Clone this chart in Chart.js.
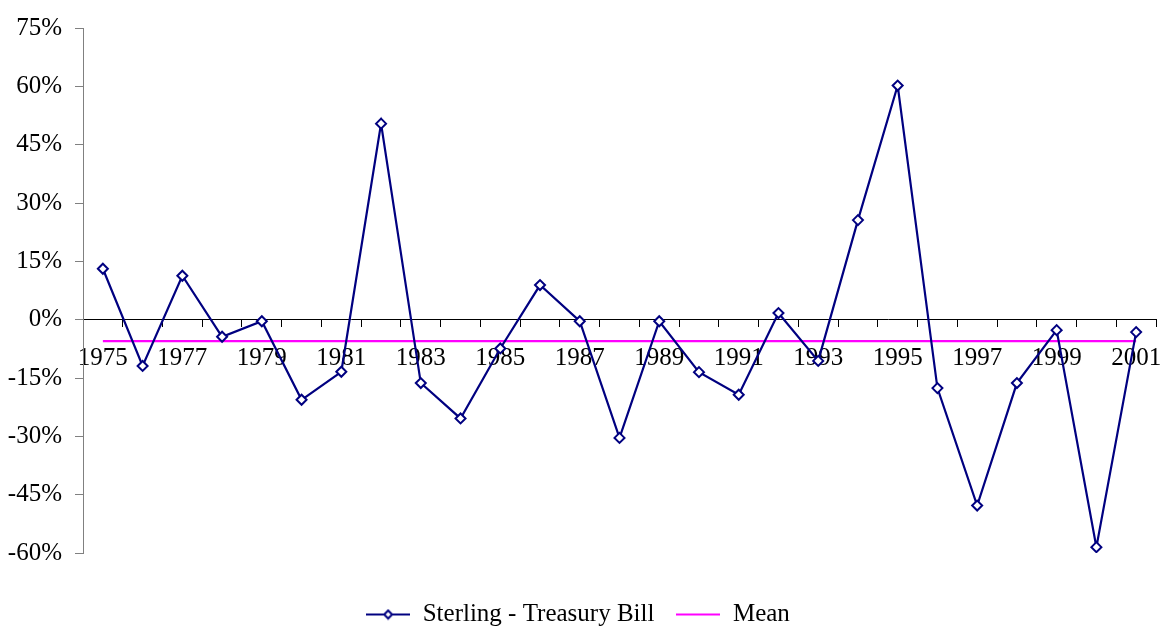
<!DOCTYPE html>
<html>
<head>
<meta charset="utf-8">
<script src="https://cdn.jsdelivr.net/npm/chart.js@4"></script>
<style>
    html, body { margin: 0; padding: 0; background: #fff; }
    #wrap { width: 1164px; height: 633px; }
</style>
</head>
<body>
<div id="wrap"><canvas id="chart"></canvas></div>
<script>
// Data
const years = ['1975', '1976', '1977', '1978', '1979', '1980', '1981', '1982', '1983', '1984',
    '1985', '1986', '1987', '1988', '1989', '1990', '1991', '1992', '1993', '1994',
    '1995', '1996', '1997', '1998', '1999', '2000', '2001'];
const sterlingTB = [13.1, -11.9, 11.3, -4.4, -0.4, -20.6, -13.4, 50.4, -16.3, -25.4,
    -7.4, 8.9, -0.4, -30.4, -0.4, -13.5, -19.3, 1.7, -10.6, 25.6,
    60.2, -17.6, -47.8, -16.3, -2.7, -58.5, -3.2];
const meanValues = [-5.5, -5.5, -5.5, -5.5, -5.5, -5.5, -5.5, -5.5, -5.5, -5.5,
    -5.5, -5.5, -5.5, -5.5, -5.5, -5.5, -5.5, -5.5, -5.5, -5.5,
    -5.5, -5.5, -5.5, -5.5, -5.5, -5.5, -5.5];
const seriesLabels = ['Sterling - Treasury Bill', 'Mean'];
const yMin = -60;
const yMax = 75;
const yStep = 15;

const NAVY = '#000080';
const MAGENTA = '#FF00FF';
const FONT = { family: '"Liberation Serif", "Times New Roman", serif', size: 25 };

// Legend icons: short line, the first one with a diamond marker on it
function makeIcon(color, withMarker) {
    const c = document.createElement('canvas');
    c.width = 44;
    c.height = 12;
    const g = c.getContext('2d');
    g.strokeStyle = color;
    g.lineWidth = 2;
    g.beginPath();
    g.moveTo(0, 6);
    g.lineTo(44, 6);
    g.stroke();
    if (withMarker) {
        g.fillStyle = '#fff';
        g.lineWidth = 2;
        g.beginPath();
        g.moveTo(22, 2);
        g.lineTo(26, 6);
        g.lineTo(22, 10);
        g.lineTo(18, 6);
        g.closePath();
        g.fill();
        g.stroke();
    }
    return c;
}
const legendIcons = [makeIcon(NAVY, true), makeIcon(MAGENTA, false)];

// keep the category axes from reserving side padding for their labels
function noSidePadding(scale) {
    scale.paddingLeft = 0;
    scale.paddingRight = 0;
}

Chart.defaults.font.family = FONT.family;
Chart.defaults.font.size = FONT.size;
Chart.defaults.color = '#000';

const ctx = document.getElementById('chart').getContext('2d');
new Chart(ctx, {
    type: 'line',
    data: {
        labels: years,
        datasets: [{
            label: seriesLabels[0],
            data: sterlingTB,
            borderColor: NAVY,
            borderWidth: 2.2,
            tension: 0,
            pointStyle: 'rectRot',
            pointRadius: 5,
            pointBorderWidth: 2,
            pointBorderColor: NAVY,
            pointBackgroundColor: '#fff'
        }, {
            label: seriesLabels[1],
            data: meanValues,
            borderColor: MAGENTA,
            borderWidth: 2.2,
            pointRadius: 0,
            tension: 0
        }]
    },
    options: {
        responsive: true,
        maintainAspectRatio: false,
        animation: false,
        layout: { padding: { left: 0, right: 8, top: 25, bottom: -4 } },
        plugins: {
            tooltip: { enabled: false },
            legend: {
                position: 'bottom',
                labels: {
                    usePointStyle: true,
                    pointStyleWidth: 44,
                    padding: 22,
                    font: FONT,
                    generateLabels: (chart) => chart.data.datasets.map((ds, i) => ({
                        text: ds.label,
                        pointStyle: legendIcons[i],
                        datasetIndex: i,
                        fontColor: '#000',
                        lineWidth: 0,
                        hidden: false
                    }))
                }
            }
        },
        scales: {
            x: {
                type: 'category',
                position: { y: 0 },
                offset: true,
                grid: {
                    offset: true,
                    drawOnChartArea: false,
                    drawTicks: true,
                    tickLength: 7,
                    color: '#000'
                },
                border: { color: '#000', width: 1 },
                ticks: {
                    autoSkip: false,
                    maxRotation: 0,
                    minRotation: 0,
                    padding: 17,
                    font: FONT,
                    callback: function (value, index) {
                        return index % 2 === 0 ? this.getLabelForValue(value) : '';
                    }
                },
                afterFit: noSidePadding
            },
            spacer: {
                type: 'category',
                position: 'bottom',
                display: true,
                grid: { display: false },
                border: { display: false },
                ticks: { display: false },
                afterFit: (scale) => {
                    scale.height = 27;
                    noSidePadding(scale);
                }
            },
            y: {
                min: yMin,
                max: yMax,
                grid: {
                    drawOnChartArea: false,
                    drawTicks: true,
                    tickLength: 8,
                    color: '#808080'
                },
                border: { color: '#808080', width: 1 },
                ticks: {
                    stepSize: yStep,
                    padding: 13,
                    font: FONT,
                    callback: (v) => v + '%'
                },
                afterFit: (scale) => { scale.width = 83; }
            }
        }
    }
});
</script>
</body>
</html>
